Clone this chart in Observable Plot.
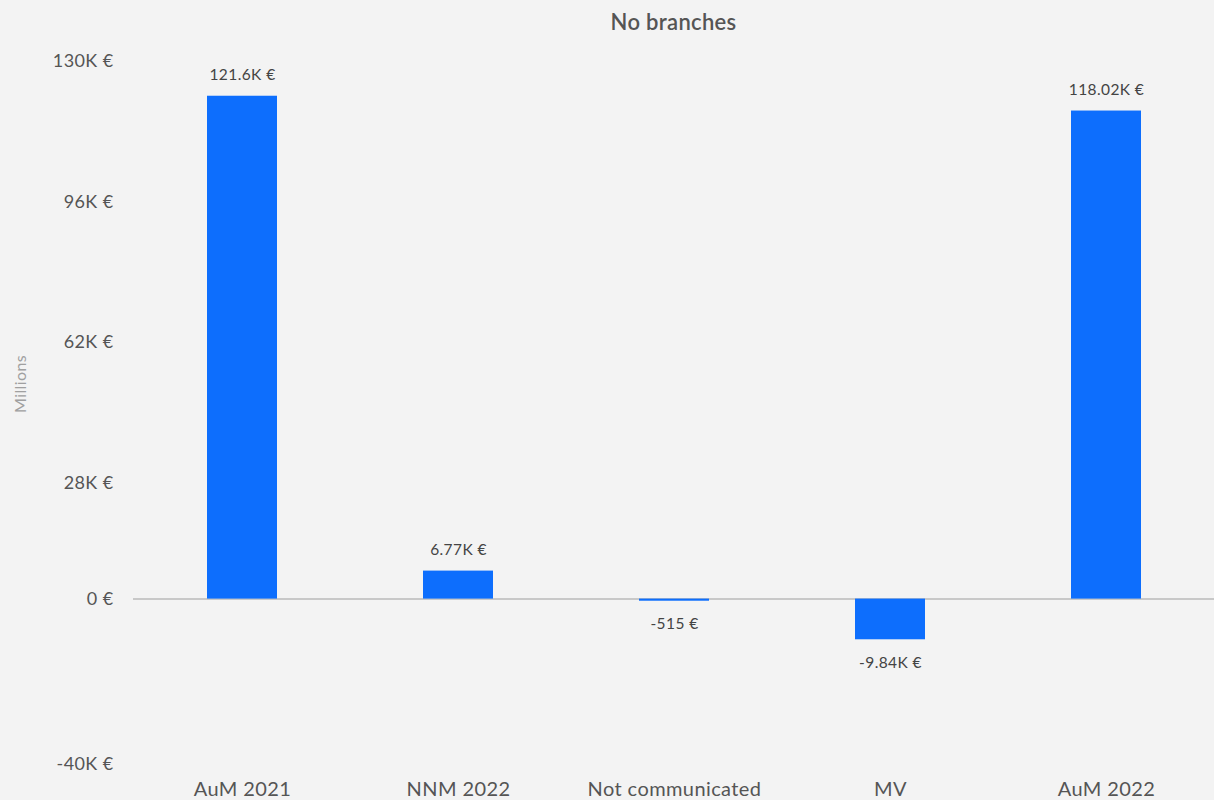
<!DOCTYPE html>
<html>
<head>
<meta charset="utf-8">
<script src="https://cdn.jsdelivr.net/npm/d3@7"></script>
<script src="https://cdn.jsdelivr.net/npm/@observablehq/plot@0.6"></script>
<style>
  html, body { margin: 0; padding: 0; background: #f3f3f3; }
  body { width: 1214px; height: 800px; overflow: hidden; font-family: Lato, "Open Sans", sans-serif; }
  #title { height: 44px; box-sizing: border-box; padding-left: 133px; text-align: center; font-size: 22px; font-weight: 600; color: #555; line-height: 44px; letter-spacing: 0.3px; }
  #chart svg text { letter-spacing: 0.4px; }
</style>
</head>
<body>
<div id="title">No branches</div>
<div id="chart"></div>
<script>
const categories = ["AuM 2021", "NNM 2022", "Not communicated", "MV", "AuM 2022"];
const values = [121.6, 6.77, -0.515, -9.84, 118.02]; // thousands of €
const valueLabels = ["121.6K €", "6.77K €", "-515 €", "-9.84K €", "118.02K €"];
const yTicks = [130, 96, 62, 28, 0, -40];

const data = categories.map((c, i) => ({category: c, value: values[i], label: valueLabels[i]}));
const fmt = v => v === 0 ? "0 €" : `${v}K €`;

const chart = Plot.plot({
  width: 1214,
  height: 756,
  marginTop: 17,
  marginBottom: 36,
  marginLeft: 133,
  marginRight: 0,
  style: {background: "transparent", fontFamily: "Lato, 'Open Sans', sans-serif"},
  x: {domain: categories, paddingInner: 0.676, paddingOuter: 0.338},
  y: {domain: [-40, 130]},
  marks: [
    Plot.ruleY([0], {stroke: "#c8c8c8", strokeWidth: 2}),
    Plot.barY(data, {x: "category", y: "value", fill: "#0d6efd"}),
    Plot.text(data.filter(d => d.value >= 0), {x: "category", y: "value", text: "label", dy: -21, lineAnchor: "middle", fill: "#444", fontSize: 15.5}),
    Plot.text(data.filter(d => d.value < 0), {x: "category", y: "value", text: "label", dy: 23, lineAnchor: "middle", fill: "#444", fontSize: 15.5}),
    Plot.axisY({ticks: yTicks, tickFormat: fmt, tickSize: 0, tickPadding: 20, fontSize: 18, color: "#555", label: null}),
    Plot.axisX({tickSize: 0, tickPadding: 17, fontSize: 20, color: "#555", label: null}),
    Plot.text(["Millions"], {frameAnchor: "left", dx: -113, rotate: -90, fill: "#a0a0a0", fontSize: 16})
  ]
});
document.getElementById("chart").appendChild(chart);
</script>
</body>
</html>
